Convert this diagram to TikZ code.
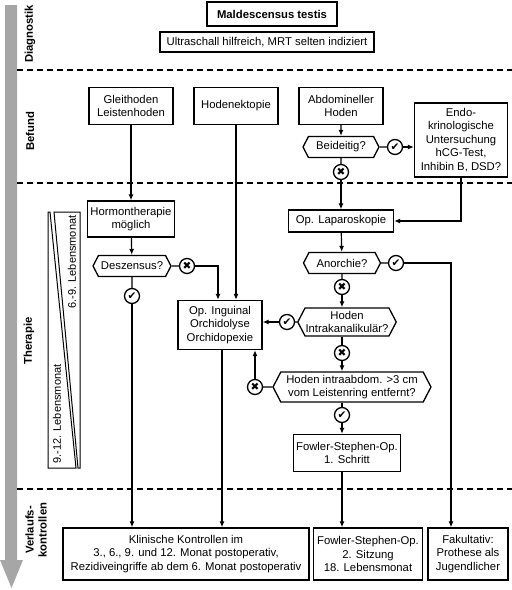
\documentclass[tikz,border=0pt]{standalone}
\usepackage{fontspec}
\setmainfont{Liberation Sans}
\newfontfamily\symfont{DejaVu Sans}
\usetikzlibrary{shapes.symbols,arrows.meta,calc}
\definecolor{bargray}{RGB}{166,166,166}
\begin{document}
\begin{tikzpicture}[x=1pt,y=-1pt, font=\fontsize{11.3}{13.5}\selectfont,
 box/.style={draw, line width=1.3pt, align=center, inner sep=1pt},
 hex/.style={draw, line width=1.3pt, signal, signal to=west and east, signal pointer angle=125, align=center, inner sep=0.5pt},
 ok/.style={draw, circle, line width=1.3pt, minimum size=15pt, inner sep=0pt, font=\symfont\fontsize{10.5}{10.5}\selectfont},
 arr/.style={line width=1.2pt, -{Latex[length=6pt,width=5pt]}},
 ln/.style={line width=1.2pt},
 sep/.style={line width=1.3pt, dash pattern=on 6pt off 4pt},
 sect/.style={rotate=90, font=\bfseries\fontsize{11.3}{13}\selectfont, align=center},
 wedge/.style={line width=1pt}]
\useasboundingbox (0,0) rectangle (512,590);

% time arrow
\fill[bargray] (5,5) -- (17,5) -- (17,560) -- (23,560) -- (11.5,588) -- (0,560) -- (5,560) -- cycle;

% section labels
\node[sect] (sdia) at (30,34) {Diagnostik};
\node[sect] (sbef) at (30,131) {Befund};
\node[sect] (sther) at (29,341) {Therapie};
\node[sect] (sverl) at (36,530) {Verlaufs-\\kontrollen};

% separators
\coordinate (s1l) at (17,70);  \coordinate (s1r) at (512,70);
\coordinate (s2l) at (17,183); \coordinate (s2r) at (512,183);
\coordinate (s3l) at (17,489); \coordinate (s3r) at (512,489);
\draw[sep] (s1l) -- (s1r);
\draw[sep] (s2l) -- (s2r);
\draw[sep] (s3l) -- (s3r);

% age wedges
\draw[wedge] (54,212) -- (80,212) -- (80,468) -- (78,468) -- cycle;
\draw[wedge] (48,212) -- (50,212) -- (76,468) -- (48,468) -- cycle;
\node[rotate=90, font=\fontsize{11}{13}\selectfont] (w1) at (72,262) {6.-9. Lebensmonat};
\node[rotate=90, font=\fontsize{11}{13}\selectfont] (w2) at (57,414) {9.-12. Lebensmonat};

% Diagnostik
\node[box, font=\bfseries\fontsize{11.3}{13.5}\selectfont, minimum width=130pt, minimum height=24pt] (title) at (272,14) {Maldescensus testis};
\node[box, minimum width=214pt, minimum height=20pt] (us) at (267,42) {Ultraschall hilfreich, MRT selten indiziert};

% Befund
\node[box, minimum width=84pt, minimum height=37pt] (gl) at (131,106) {Gleithoden\\Leistenhoden};
\node[box, minimum width=84pt, minimum height=37pt] (hek) at (236,106) {Hodenektopie};
\node[box, minimum width=84pt, minimum height=37pt] (abd) at (341,106) {Abdomineller\\Hoden};
\node[hex, minimum width=76pt, minimum height=21pt] (beid) at (341,147) {Beideitig?};
\node[ok] (bcheck) at (395,147) {✔};
\node[ok] (bcross) at (341,172) {✖};
\node[box, minimum width=93pt, minimum height=74pt] (endo) at (461,140) {Endo-\\krinologische\\Untersuchung\\hCG-Test,\\Inhibin B, DSD?};

% Therapie left
\node[box, minimum width=87pt, minimum height=36pt] (horm) at (131,219) {Hormontherapie\\möglich};
\node[hex, minimum width=78pt, minimum height=21pt] (desz) at (132,266) {Deszensus?};
\node[ok] (dcross) at (187,266) {✖};
\node[ok] (dcheck) at (132,296) {✔};
\node[box, minimum width=84pt, minimum height=49pt] (orch) at (220,325) {Op. Inguinal\\Orchidolyse\\Orchidopexie};

% Therapie right
\node[box, minimum width=105pt, minimum height=22pt] (lap) at (341,221) {Op. Laparoskopie};
\node[hex, minimum width=77pt, minimum height=21pt] (anor) at (342,263) {Anorchie?};
\node[ok] (acheck) at (396,263) {✔};
\node[ok] (across) at (342,287) {✖};
\node[hex, minimum width=94pt, minimum height=28pt] (hik) at (347,322) {Hoden\\Intrakanalikulär?};
\node[ok] (icheck) at (287,322) {✔};
\node[ok] (icross) at (342,353) {✖};
\node[hex, minimum width=158pt, minimum height=30pt] (iab) at (352,387) {Hoden intraabdom. >3 cm\\vom Leistenring entfernt?};
\node[ok] (iacross) at (255,387) {✖};
\node[ok] (iacheck) at (342,415) {✔};
\node[box, minimum width=107pt, minimum height=37pt] (fs1) at (347,453) {Fowler-Stephen-Op.\\1. Schritt};

% Verlaufskontrollen
\node[box, minimum width=246pt, minimum height=52pt] (klin) at (186,554) {Klinische Kontrollen im\\3., 6., 9. und 12. Monat postoperativ,\\Rezidiveingriffe ab dem 6. Monat postoperativ};
\node[box, minimum width=109pt, minimum height=52pt] (fs2) at (368,554) {Fowler-Stephen-Op.\\2. Sitzung\\18. Lebensmonat};
\node[box, minimum width=80pt, minimum height=52pt] (fak) at (468,554) {Fakultativ:\\Prothese als\\Jugendlicher};

% connectors left
\draw[arr] (gl) -- (horm);
\draw[arr] (horm) -- (desz);
\draw[ln] (desz) -- (dcross);
\draw[arr] (dcross) -| ([xshift=-2pt]orch.north);
\draw[ln] (desz) -- (dcheck);
\draw[arr] (dcheck) -- (dcheck |- klin.north);
\draw[arr] (hek) -- (hek |- orch.north);
\draw[arr] ([xshift=2pt]orch.south) -- ([xshift=2pt]orch.south |- klin.north);

% connectors right
\draw[arr] (abd) -- (beid);
\draw[ln] (beid) -- (bcheck);
\draw[arr] (bcheck) -- (bcheck -| endo.west);
\draw[ln] (beid) -- (bcross);
\draw[arr] (bcross) -- (lap);
\draw[arr] (endo) |- (lap);
\draw[arr] (lap) -- (anor);
\draw[ln] (anor) -- (acheck);
\draw[arr] (acheck) -| ([xshift=-17pt]fak.north);
\draw[ln] (anor) -- (across);
\draw[arr] (across) -- (across |- hik.north);
\draw[ln] (hik) -- (icheck);
\draw[arr] (icheck) -- (icheck -| orch.east);
\draw[ln] (hik.south -| icross) -- (icross);
\draw[arr] (icross) -- (icross |- iab.north);
\draw[ln] (iab) -- (iacross);
\draw[arr] (iacross) -- (iacross |- orch.south);
\draw[ln] (iab.south -| iacheck) -- (iacheck);
\draw[arr] (iacheck) -- (iacheck |- fs1.north);
\draw[arr] (fs1.south -| iacheck) -- (iacheck |- fs2.north);
\end{tikzpicture}
\end{document}
